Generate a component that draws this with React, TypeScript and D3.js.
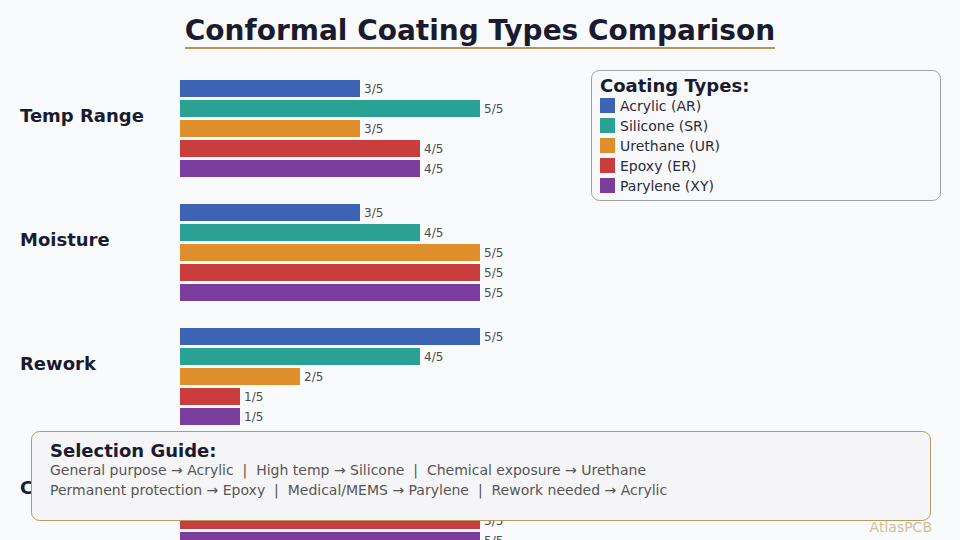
import React from 'react';
import * as d3 from 'd3';

// Ratings out of 5 for each property, per coating type
const properties = ['Temp Range', 'Moisture', 'Rework', 'Chemical'];
const coatings = ['Acrylic (AR)', 'Silicone (SR)', 'Urethane (UR)', 'Epoxy (ER)', 'Parylene (XY)'];
const colors = ['#3d63b5', '#29a194', '#df8e2c', '#c93d3d', '#7a3d9e'];
const acrylic = [3, 3, 5, 2];
const silicone = [5, 4, 4, 3];
const urethane = [3, 5, 2, 5];
const epoxy = [4, 5, 1, 5];
const parylene = [4, 5, 1, 5];
const guideLines = [
  'General purpose → Acrylic  |  High temp → Silicone  |  Chemical exposure → Urethane',
  'Permanent protection → Epoxy  |  Medical/MEMS → Parylene  |  Rework needed → Acrylic',
];

const W = 960;
const H = 540;
const font = 'DejaVu Sans, sans-serif';

const App = () => {
  const series = [acrylic, silicone, urethane, epoxy, parylene];

  const x = d3.scaleLinear().domain([0, 5]).range([180, 480]);
  // 124px per property group, 20px per bar row (17px bar + 3px gap)
  const groupY = d3.scaleBand().domain(properties).range([80, 576]);
  const barY = d3.scaleBand().domain(coatings).range([0, 97]).paddingInner(0.15);

  return (
    <svg width={W} height={H} style={{ position: 'absolute', left: 0, top: 0, background: '#f8fafc' }}
      fontFamily={font}>
      <rect width={W} height={H} fill="#f8fafc" />

      {/* title */}
      <text x={480} y={40} textAnchor="middle" fontSize={28} fontWeight="bold" fill="#1a1b2e">
        Conformal Coating Types Comparison
      </text>
      <line x1={185} x2={775} y1={48} y2={48} stroke="#b8965a" strokeWidth={2} />

      {/* bar groups */}
      {properties.map((p, pi) => {
        const gy = groupY(p)!;
        return (
          <g key={p}>
            <text x={20} y={gy + 42} fontSize={18} fontWeight="bold" fill="#1a1b2e">{p}</text>
            {coatings.map((c, ci) => {
              const v = series[ci][pi];
              const y = gy + barY(c)!;
              return (
                <g key={c}>
                  <rect x={x(0)} y={y} width={x(v) - x(0)} height={barY.bandwidth()} fill={colors[ci]} />
                  <text x={x(v) + 4} y={y + barY.bandwidth() / 2 + 4} fontSize={12} fill="#4a4a4a">
                    {v}/5
                  </text>
                </g>
              );
            })}
          </g>
        );
      })}

      {/* legend */}
      <rect x={591.5} y={70.5} width={349} height={130} rx={8} fill="#f8f9fb" stroke="#a0a0a0" />
      <text x={600} y={92} fontSize={18} fontWeight="bold" fill="#1a1b2e">Coating Types:</text>
      {coatings.map((c, i) => (
        <g key={c}>
          <rect x={600} y={98 + i * 20} width={15} height={15} fill={colors[i]} />
          <text x={620} y={111 + i * 20} fontSize={14} fill="#2a2a3a">{c}</text>
        </g>
      ))}

      {/* selection guide */}
      <rect x={31.5} y={431.5} width={899} height={89} rx={8} fill="#f5f5f7" stroke="#b89a64" />
      <text x={50} y={457} fontSize={18} fontWeight="bold" fill="#1a1b2e">Selection Guide:</text>
      {guideLines.map((t, i) => (
        <text key={i} x={50} y={475 + i * 20} fontSize={14} fill="#555" style={{ whiteSpace: 'pre' }}>
          {t}
        </text>
      ))}

      <text x={932} y={532} textAnchor="end" fontSize={14} fill="#d4bf95">AtlasPCB</text>
    </svg>
  );
};

export default App;
